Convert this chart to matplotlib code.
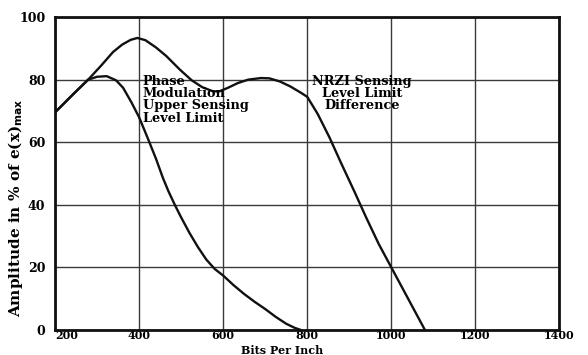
import matplotlib
matplotlib.use("Agg")
import matplotlib.pyplot as plt

# NRZI sensing level limit difference (upper curve)
nrzi_bpi = [200, 243, 279, 310, 338, 360, 380, 396, 415, 440, 465, 497, 525, 550, 575, 590, 610, 635,
            660, 690, 710, 735, 760, 785, 800, 825, 853, 880, 913, 940, 970, 1000, 1040, 1080]
nrzi_amp = [69.5, 75.3, 80, 84.5, 88.8, 91.2, 92.7, 93.3, 92.6, 90.3, 87.5, 83.2, 79.8, 77.6, 76.3, 76.2, 77.3, 78.9,
            80, 80.5, 80.4, 79.4, 77.8, 75.8, 74.5, 69, 61.5, 53.5, 44, 36, 27.5, 20, 10, 0]

# Phase modulation upper sensing level limit (lower curve)
pm_bpi = [200, 243, 279, 300, 323, 345, 362, 382, 400, 420, 440, 457, 470, 485, 500, 520, 540, 560,
          580, 600, 625, 650, 675, 700, 725, 750, 770, 785]
pm_amp = [69.5, 75.3, 80, 80.9, 81.1, 79.8, 77.4, 72.7, 68, 61.5, 54.8, 48.5, 44.3, 40, 36, 31, 26.5, 22.5,
          19.5, 17.4, 14.3, 11.5, 9, 6.7, 4.2, 2, 0.7, 0]

x_ticks = [200, 400, 600, 800, 1000, 1200, 1400]
y_ticks = [0, 20, 40, 60, 80, 100]

SERIF = "DejaVu Serif"

fig = plt.figure(figsize=(5.88, 3.55), dpi=100)
ax = fig.add_axes([0.0935, 0.0704, 0.858, 0.8817])
ax.set_xlim(200, 1400); ax.set_ylim(0, 100)
ax.set_xticks(x_ticks); ax.set_yticks(y_ticks)
ax.grid(True, color="#3a3a3a", lw=1.0)
ax.tick_params(axis="x", length=0, pad=0)
ax.tick_params(axis="y", length=0, pad=7)
for lab in ax.get_xticklabels():
    lab.set_fontfamily(SERIF); lab.set_fontsize(8); lab.set_fontweight("bold")
for lab in ax.get_yticklabels():
    lab.set_fontfamily(SERIF); lab.set_fontsize(9); lab.set_fontweight("bold")
ax.get_xticklabels()[0].set_horizontalalignment("left")   # "200" sits right of the corner
for s in ax.spines.values():
    s.set_linewidth(2.0); s.set_color("#111")

ax.plot(nrzi_bpi, nrzi_amp, color="#111", lw=1.7)
ax.plot(pm_bpi, pm_amp, color="#111", lw=1.7)

ax.text(409, 81.5, "Phase\nModulation\nUpper Sensing\nLevel Limit", ha="left", va="top",
        fontsize=9.3, family=SERIF, weight="bold", linespacing=0.92)
ax.text(930, 81.5, "NRZI Sensing\nLevel Limit\nDifference", ha="center", va="top",
        fontsize=9.3, family=SERIF, weight="bold", linespacing=0.92)

ax.set_xlabel("Bits Per Inch", family=SERIF, weight="bold", fontsize=8, va="bottom")
ax.xaxis.set_label_coords(0.45, -0.084)
ax.set_ylabel(r"Amplitude in % of e(x)$_{\mathbf{max}}$", family=SERIF, weight="bold", fontsize=11)
ax.yaxis.set_label_coords(-0.06, 0.39)

fig.savefig("out.png", dpi=100)
